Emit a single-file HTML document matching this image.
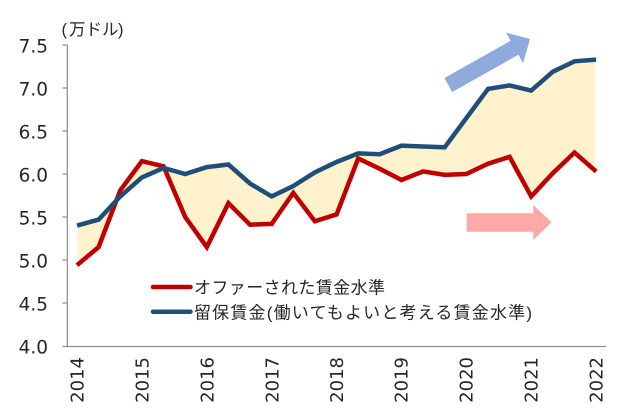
<!DOCTYPE html>
<html>
<head>
<meta charset="utf-8">
<style>
html,body{margin:0;padding:0;background:#fff;}
svg{display:block;}
</style>
</head>
<body>
<svg width="620" height="420" viewBox="0 0 620 420" xmlns="http://www.w3.org/2000/svg">
<rect width="620" height="420" fill="#fff"/>
<!-- fill between -->
<polygon fill="#FFF2CC" stroke="#fff" stroke-width="1"
points="77,225.6 98.6,219.6 120.3,196.4 141.9,177.4 163.5,168 185.2,174 206.8,167.1 228.4,164.5 250,183.5 271.7,196.4 293.3,186 314.9,172.3 336.6,162 358.2,153.4 379.8,154.2 401.5,145.6 423.1,146.5 444.7,147.3 466.3,118.1 488,88.9 509.6,85.4 531.2,90.6 552.9,71.7 574.5,61.3 596.1,59.6 596.1,171.4 574.5,152.5 552.9,173.1 531.2,196.4 509.6,156.8 488,163.7 466.3,174 444.7,174.9 423.1,171.4 401.5,180 379.8,168.8 358.2,158.5 336.6,214.4 314.9,221.3 293.3,192.9 271.7,223.9 250,224.7 228.4,203.2 206.8,247.1 185.2,217 163.5,166.3 141.9,161.1 120.3,190.3 98.6,247.1 77,265.2"/>
<!-- axes -->
<g stroke="#8c8c8c" stroke-width="1.2" fill="none">
<line x1="67.3" y1="45" x2="67.3" y2="346.5"/>
<line x1="62.5" y1="346.5" x2="606" y2="346.5"/>
<line x1="62.5" y1="45" x2="67.3" y2="45"/>
<line x1="62.5" y1="88" x2="67.3" y2="88"/>
<line x1="62.5" y1="131" x2="67.3" y2="131"/>
<line x1="62.5" y1="174" x2="67.3" y2="174"/>
<line x1="62.5" y1="217" x2="67.3" y2="217"/>
<line x1="62.5" y1="260" x2="67.3" y2="260"/>
<line x1="62.5" y1="303" x2="67.3" y2="303"/>
</g>
<!-- y labels -->
<g font-family="DejaVu Sans, Liberation Sans, sans-serif" font-size="18.5" fill="#262626" text-anchor="end">
<text x="48" y="52.5">7.5</text>
<text x="48" y="95.5">7.0</text>
<text x="48" y="138.5">6.5</text>
<text x="48" y="181.5">6.0</text>
<text x="48" y="224.5">5.5</text>
<text x="48" y="267.5">5.0</text>
<text x="48" y="310.5">4.5</text>
<text x="48" y="353.5">4.0</text>
</g>
<!-- x labels -->
<g font-family="DejaVu Sans, Liberation Sans, sans-serif" font-size="18" fill="#262626" text-anchor="end">
<text transform="translate(77,357) rotate(-90)" x="0" y="6.5">2014</text>
<text transform="translate(142,357) rotate(-90)" x="0" y="6.5">2015</text>
<text transform="translate(207,357) rotate(-90)" x="0" y="6.5">2016</text>
<text transform="translate(272,357) rotate(-90)" x="0" y="6.5">2017</text>
<text transform="translate(336.5,357) rotate(-90)" x="0" y="6.5">2018</text>
<text transform="translate(401,357) rotate(-90)" x="0" y="6.5">2019</text>
<text transform="translate(466,357) rotate(-90)" x="0" y="6.5">2020</text>
<text transform="translate(531,357) rotate(-90)" x="0" y="6.5">2021</text>
<text transform="translate(596,357) rotate(-90)" x="0" y="6.5">2022</text>
</g>
<!-- unit label -->
<g font-family="Liberation Sans, Noto Sans CJK JP, sans-serif" font-size="16.5" fill="#262626">
<text x="61.5" y="35">(</text>
<text x="69" y="35">万ドル</text>
<text x="118" y="35">)</text>
</g>
<!-- series -->
<polyline fill="none" stroke="#C00000" stroke-width="4.5" stroke-linejoin="miter" stroke-miterlimit="4"
points="77,265.2 98.6,247.1 120.3,190.3 141.9,161.1 163.5,166.3 185.2,217 206.8,247.1 228.4,203.2 250,224.7 271.7,223.9 293.3,192.9 314.9,221.3 336.6,214.4 358.2,158.5 379.8,168.8 401.5,180 423.1,171.4 444.7,174.9 466.3,174 488,163.7 509.6,156.8 531.2,196.4 552.9,173.1 574.5,152.5 596.1,171.4"/>
<polyline fill="none" stroke="#1F4E79" stroke-width="4.5" stroke-linejoin="miter" stroke-miterlimit="4"
points="77,225.6 98.6,219.6 120.3,196.4 141.9,177.4 163.5,168 185.2,174 206.8,167.1 228.4,164.5 250,183.5 271.7,196.4 293.3,186 314.9,172.3 336.6,162 358.2,153.4 379.8,154.2 401.5,145.6 423.1,146.5 444.7,147.3 466.3,118.1 488,88.9 509.6,85.4 531.2,90.6 552.9,71.7 574.5,61.3 596.1,59.6"/>
<!-- arrows -->
<polygon fill="#8FAADC" points="444.4,78 510.6,40.8 505.9,32.5 530,39 523.1,63.1 518.4,54.8 452.2,92"/>
<polygon fill="#FFA8A8" points="466.7,213.3 533.3,213.3 533.3,205 551.7,222.3 533.3,240 533.3,231.7 466.7,231.7"/>
<!-- legend -->
<line x1="153" y1="287" x2="190.5" y2="287" stroke="#C00000" stroke-width="4.5" stroke-linecap="round"/>
<line x1="153" y1="311.7" x2="190.5" y2="311.7" stroke="#1F4E79" stroke-width="4.5" stroke-linecap="round"/>
<g font-family="Liberation Sans, Noto Sans CJK JP, sans-serif" font-size="17" fill="#262626">
<text x="194" y="293.5" textLength="191" lengthAdjust="spacing">オファーされた賃金水準</text>
<text x="194" y="318.5" textLength="338" lengthAdjust="spacing">留保賃金(働いてもよいと考える賃金水準)</text>
</g>
</svg>
</body>
</html>
